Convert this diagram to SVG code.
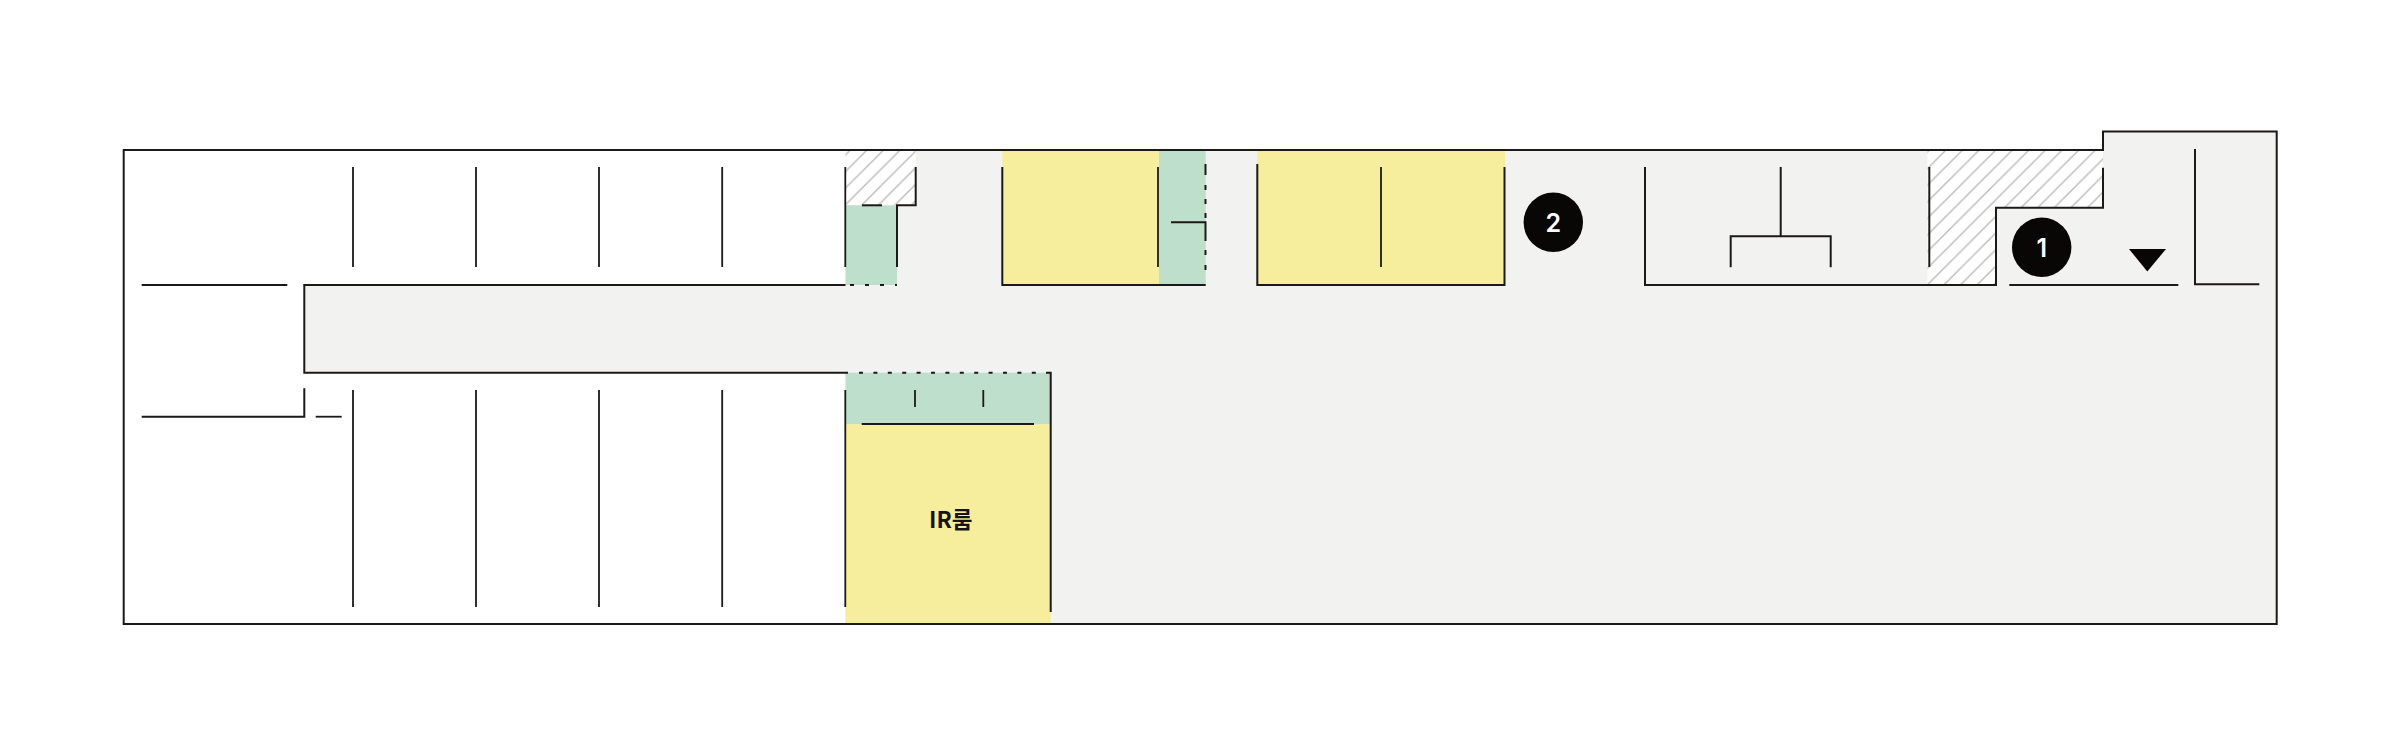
<svg xmlns="http://www.w3.org/2000/svg" width="2400" height="756" viewBox="0 0 2400 756">
<style>
.l{fill:none;stroke:#1c1a18;stroke-width:2;stroke-linecap:butt;stroke-linejoin:miter}
.t{fill:none;stroke:#1c1a18;stroke-width:1.8}
.y{fill:#f6ee9c}.g{fill:#bddfcb}
.n{fill:#090706}
.d{font-family:Inter,"Noto Sans",sans-serif;font-size:25px;font-weight:600;fill:#fff;text-anchor:middle}
.r{font-family:"Noto Sans CJK KR","Noto Sans",sans-serif;font-size:22.5px;font-weight:700;fill:#16140f;text-anchor:middle}
</style>
<defs>
<pattern id="h" patternUnits="userSpaceOnUse" width="16.6" height="16.6" patternTransform="translate(1946 150)">
<rect width="16.6" height="16.6" fill="#fff"/>
<path d="M-1 17.6L17.6 -1M-4 4L4 -4M12.6 20.6L20.6 12.6" stroke="#bcbcba" stroke-width="1.4" fill="none"/>
</pattern>
</defs>
<rect width="2400" height="756" fill="#fff"/>
<g id="floor">
<path d="M304.3 285H845.5V150H2103V131.5H2276.7V624H845.5V372.7H304.3Z" fill="#f2f2f0"/>
<path d="M845.5 150H915.7V205.3H845.5Z" fill="url(#h)"/>
<path d="M1927.5 150H2103V207.7H1996V285H1927.5Z" fill="url(#h)"/>
<rect class="g" x="845.5" y="205.3" width="51.5" height="79.7"/>
<rect class="y" x="1002.3" y="150" width="156.7" height="135"/>
<rect class="g" x="1159" y="150" width="46.7" height="135"/>
<rect class="y" x="1257.3" y="150" width="247.7" height="135"/>
<rect class="g" x="845.5" y="372.7" width="205.2" height="51.6"/>
<rect class="y" x="845.5" y="424.3" width="205.2" height="199.7"/>
</g>
<g id="walls">
<path class="l" d="M845.5 150H123.7V624H2276.7V131.5H2103V150H845.5"/>
<path class="l" d="M141.7 285H287.3"/>
<path class="l" d="M845.5 285H304.3V372.7H848"/>
<path class="l" d="M141.7 416.7H304.3V388.3"/>
<path class="t" d="M315.7 416.7H341.7"/>
<path class="t" d="M353 167V267M476 167V267M599 167V267M722.2 167V267M845.3 167V267"/>
<path class="t" d="M353 390V607M476 390V607M599 390V607M722.2 390V607M845.3 390V607"/>
<path class="l" d="M915.7 167V205.3H897V267"/>
<path class="l" d="M862 205.3H882"/>
<path class="l" stroke-dasharray="4 11" d="M850 285H897"/>
<path class="l" d="M1002.3 167V285H1205.7"/>
<path class="t" d="M1158 167V267"/>
<path class="l" d="M1205.5 164V175M1205.5 185V190M1205.5 199V204M1205.5 213V218M1171 222.3H1205.5V241M1205.5 250V255M1205.5 265V270"/>
<path class="l" d="M1257.3 164V285H1504.5V167"/>
<path class="t" d="M1381 167V267"/>
<path class="l" d="M1645 167V285H1996V207.7H2103V167.7"/>
<path class="l" d="M1780.7 167V236.3M1730.7 267.3V236.3H1830.7V267.3"/>
<path class="l" d="M1929.3 167V267"/>
<path class="l" d="M2009.3 285H2178.3"/>
<path class="l" d="M2195 149V284.3H2259.3"/>
<path class="l" stroke-dasharray="4 10.4" d="M859 372.7H1046"/>
<path class="l" d="M1046 372.7H1050.7V612"/>
<path class="t" d="M915 390V407M983.3 390V407"/>
<path class="l" d="M861.7 424H1034"/>
</g>
<g id="label-ir"><text class="r" x="950.7" y="528">IR룸</text></g>
<g id="marker-1"><circle class="n" cx="2041.7" cy="247.3" r="29.7"/><text class="d" x="2041.7" y="256.5">1</text></g>
<g id="marker-2"><circle class="n" cx="1553.3" cy="222.3" r="29.7"/><text class="d" x="1553.3" y="231.5">2</text></g>
<g id="arrow"><path class="n" d="M2129 249H2166L2147.3 271.5Z"/></g>
</svg>
